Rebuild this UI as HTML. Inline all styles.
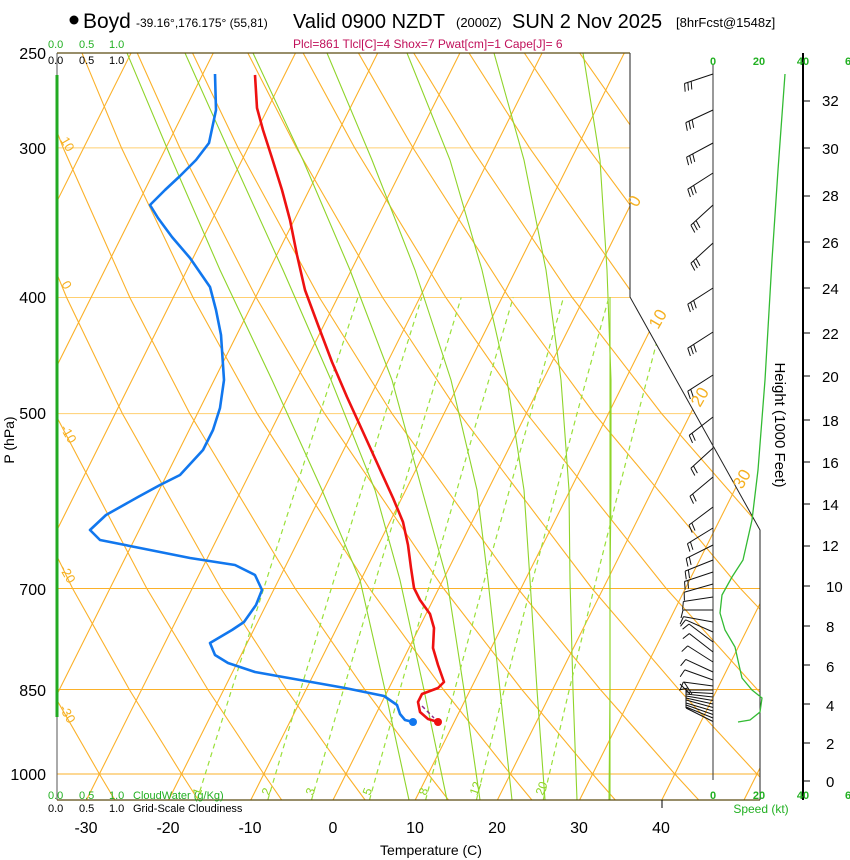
<!DOCTYPE html>
<html><head><meta charset="utf-8">
<style>
html,body{margin:0;padding:0;background:#fff;}
svg{display:block;font-family:"Liberation Sans",sans-serif;}
</style></head>
<body>
<svg width="850" height="860" viewBox="0 0 850 860" xmlns="http://www.w3.org/2000/svg">
<defs>
<clipPath id="cp"><polygon points="57,53 630,53 630,297 760,530 760,800 57,800"/></clipPath>
<g id="b1"><path d="M0,0 L-30,0 M-30,0 l-2,8" stroke="#111" stroke-width="1" fill="none"/></g>
<g id="b2"><path d="M0,0 L-30,0 M-30,0 l-2,8 M-26.5,0 l-2,8" stroke="#111" stroke-width="1" fill="none"/></g>
<g id="b3"><path d="M0,0 L-30,0 M-30,0 l-2,8 M-26.5,0 l-2,8 M-23,0 l-2,8" stroke="#111" stroke-width="1" fill="none"/></g>
</defs>
<rect width="850" height="860" fill="#fff"/>
<g clip-path="url(#cp)" fill="none">
<g stroke="#fbb12a" stroke-width="1">
<path d="M57,147.9H630M57,297.5H630M57,413.6H760" stroke="#ffcf70"/>
<path d="M57,588.5H760M57,689.5H760M57,774H760"/>
</g>
<g stroke="#fbb12a" stroke-width="1.1">
<path d="M-242.4,800L131.1,53M-160.2,800L213.3,53M-78,800L295.5,53M4.2,800L377.7,53M86.4,800L459.9,53M168.6,800L542.1,53M250.8,800L624.3,53M333,800L706.5,53M415.2,800L788.7,53M497.4,800L870.9,53M579.6,800L953.1,53M661.8,800L1035.3,53M744,800L1117.5,53"/>
</g>
<g stroke="#fbb12a" stroke-width="1.1">
<path d="M31.5,800L17.2,774L-27.7,689.5"/>
<path d="M114.9,800L99.4,774L50.8,689.5L-1.6,588.5"/>
<path d="M198.3,800L181.6,774L129.3,689.5L72.6,588.5L-12.4,413.6"/>
<path d="M281.7,800L263.8,774L207.8,689.5L146.8,588.5L55,413.6L3.4,297.5L-53.4,147.9"/>
<path d="M365.1,800L346,774L286.3,689.5L221,588.5L122.4,413.6L66.6,297.5L4.9,147.9L-28.6,53.1"/>
<path d="M448.5,800L428.2,774L364.8,689.5L295.2,588.5L189.8,413.6L129.8,297.5L63.2,147.9L26.7,53.1"/>
<path d="M531.9,800L510.4,774L443.3,689.5L369.4,588.5L257.2,413.6L193,297.5L121.5,147.9L82,53.1"/>
<path d="M615.3,800L592.6,774L521.8,689.5L443.6,588.5L324.6,413.6L256.2,297.5L179.8,147.9L137.3,53.1"/>
<path d="M698.7,800L674.8,774L600.3,689.5L517.8,588.5L392,413.6L319.4,297.5L238.1,147.9L192.6,53.1"/>
<path d="M782.1,800L757,774L678.8,689.5L592,588.5L459.4,413.6L382.6,297.5L296.4,147.9L247.9,53.1"/>
<path d="M865.5,800L839.2,774L757.3,689.5L666.2,588.5L526.8,413.6L445.8,297.5L354.7,147.9L303.2,53.1"/>
<path d="M948.9,800L921.4,774L835.8,689.5L740.4,588.5L594.2,413.6L509,297.5L413,147.9L358.5,53.1"/>
<path d="M1032.3,800L1003.6,774L914.3,689.5L814.6,588.5L661.6,413.6L572.2,297.5L471.3,147.9L413.8,53.1"/>
<path d="M1115.7,800L1085.8,774L992.8,689.5L888.8,588.5L729,413.6L635.4,297.5L529.6,147.9L469.1,53.1"/>
<path d="M1199.1,800L1168,774L1071.3,689.5L963,588.5L796.4,413.6L698.6,297.5L587.9,147.9L524.4,53.1"/>
<path d="M1282.5,800L1250.2,774L1149.8,689.5L1037.2,588.5L863.8,413.6L761.8,297.5L646.2,147.9L579.7,53.1"/>
<path d="M1365.9,800L1332.4,774L1228.3,689.5L1111.4,588.5L931.2,413.6L825,297.5L704.5,147.9L635,53.1"/>
</g>
<g stroke="#8fd42a" stroke-width="1.1">
<path d="M609,800L610,690L610,580L611,490L611,380L607,270L600,160L583,53"/>
<path d="M577,800L573,690L570,580L569,490L561,380L546,270L524,160L494,53"/>
<path d="M545,800L537,690L530,580L524,490L507,380L482,270L450,160L407,53"/>
<path d="M512,800L500,690L488,580L477,490L451,380L415,270L372,160L327,53"/>
<path d="M480,800L464,690L447,580L422,490L392,380L350,270L303,160L253,53"/>
<path d="M447,800L424,690L400,580L375,490L331,380L283,270L233,160L185,53"/>
<path d="M409,800L385,690L360,580L322,490L272,380L220,270L172,160L127,53"/>
<path d="M610,297V800"/>
</g>
<g stroke="#9ae03a" stroke-width="1.2" stroke-dasharray="5,4">
<path d="M197.1,800L231.7,689.5L263.7,588.5L319.9,413.6L357.9,297.5"/>
<path d="M267.8,800L300.7,689.5L331.3,588.5L385.2,413.6L421.7,297.5"/>
<path d="M311.5,800L343.5,689.5L373.2,588.5L425.7,413.6L461.2,297.5"/>
<path d="M369.5,800L400,689.5L428.5,588.5L478.9,413.6L513.2,297.5"/>
<path d="M425.6,800L454.8,689.5L482.1,588.5L530.6,413.6L563.5,297.5"/>
<path d="M476.4,800L504.2,689.5L530.4,588.5L577,413.6L608.8,297.5"/>
<path d="M543.2,800L569.3,689.5L594,588.5L638.1,413.6L668.4,297.5"/>
</g>
</g>
<g fill="none">
<path d="M630,53V297L760,530V800" stroke="#222" stroke-width="1"/>
<path d="M57,53V800" stroke="#555" stroke-width="1"/>
<path d="M57,53H630M57,800H760" stroke="#5a4a10" stroke-width="1.2"/>
<path d="M713,65V780" stroke="#333" stroke-width="1"/>
<path d="M57,75V717" stroke="#22aa22" stroke-width="3"/>
<path d="M803,53V800" stroke="#000" stroke-width="2"/>
<path d="M803,101h7M803,148h7M803,196h7M803,242h7M803,288h7M803,333h7M803,376h7M803,420h7M803,462h7M803,504h7M803,546h7M803,586h7M803,626h7M803,665h7M803,704h7M803,743h7M803,781h7M662,800v8" stroke="#000" stroke-width="1"/>
<path d="M785,74L778,170L772,260L765,380L758,470L752,520L743,560L732,577L722,595L720,613L725,630L735,647L739,665L742,678L752,690L762,698L760,712L750,720L738,722" stroke="#33bb33" stroke-width="1.3"/>
</g>
<use href="#b3" transform="translate(713,74) rotate(-18.4)"/>
<use href="#b3" transform="translate(713,110) rotate(-24.9)"/>
<use href="#b3" transform="translate(713,143) rotate(-28.2)"/>
<use href="#b3" transform="translate(713,173) rotate(-32.7)"/>
<use href="#b3" transform="translate(713,205) rotate(-42.5)"/>
<use href="#b3" transform="translate(713,243) rotate(-42.5)"/>
<use href="#b3" transform="translate(713,288) rotate(-32.7)"/>
<use href="#b3" transform="translate(713,332) rotate(-32.7)"/>
<use href="#b2" transform="translate(713,375) rotate(-32.7)"/>
<use href="#b2" transform="translate(713,417) rotate(-37.6)"/>
<use href="#b2" transform="translate(713,448) rotate(-42.5)"/>
<use href="#b2" transform="translate(713,477) rotate(-39.8)"/>
<use href="#b2" transform="translate(713,507) rotate(-36.9)"/>
<use href="#b2" transform="translate(713,528) rotate(-31.6)"/>
<use href="#b2" transform="translate(713,545) rotate(-26.6)"/>
<use href="#b2" transform="translate(713,560) rotate(-21.8)"/>
<use href="#b2" transform="translate(713,572) rotate(-18.4)"/>
<use href="#b1" transform="translate(713,584) rotate(-15.9)"/>
<use href="#b1" transform="translate(713,597) rotate(-8.7)"/>
<use href="#b1" transform="translate(713,610) rotate(0)"/>
<use href="#b1" transform="translate(713,622) rotate(10.3)"/>
<use href="#b1" transform="translate(713,632) rotate(24)"/>
<use href="#b1" transform="translate(713,642) rotate(36.9)"/>
<use href="#b1" transform="translate(713,652) rotate(37.9)"/>
<use href="#b1" transform="translate(713,662) rotate(32.5)"/>
<use href="#b1" transform="translate(713,672) rotate(24.8)"/>
<use href="#b1" transform="translate(713,680) rotate(19.7)"/>
<use href="#b1" transform="translate(713,686) rotate(7.6)"/>
<path d="M713,690L686,690M713,693.5L686,692M713,697L686,694M713,700.5L686,696M713,704L686,698M713,707.5L686,700M713,711L686,703M713,714.5L686,705M713,718L686,707M713,721.5L686,708M686,688V708M680,684L690,694M684,682L692,694M679,690L688,688" stroke="#111" stroke-width="1" fill="none"/>
<path d="M255,75L257,108L263,130L272,158L282,190L290,220L297,255L305,290L318,325L332,362L347,397L363,432L378,465L393,498L403,522L408,545L411,568L414,588L420,600L430,614L434,628L433,648L438,665L444,682L438,688L422,694L418,702L420,712L428,719L438,722" fill="none" stroke="#ee1111" stroke-width="2.6" stroke-linejoin="round"/>
<circle cx="438" cy="722" r="4" fill="#ee1111"/>
<path d="M422,706L434,718" stroke="#8a2a8a" stroke-width="1.5" stroke-dasharray="4,3"/>
<path d="M215,74L216,110L209,143L196,160L180,176L165,190L150,205L158,218L172,237L190,258L210,287L216,310L221,335L223,365L224,380L220,408L213,430L203,450L180,475L160,485L138,497L106,515L90,530L100,540L140,548L190,558L235,565L255,575L262,590L256,605L244,622L232,630L210,643L215,655L228,663L255,672L300,680L345,688L384,696L397,705L400,714L405,720L413,722" fill="none" stroke="#1177ee" stroke-width="2.6" stroke-linejoin="round"/>
<circle cx="413" cy="722" r="4" fill="#1177ee"/>
<circle cx="74" cy="20" r="4.5" fill="#000"/>
<text x="83" y="28" font-size="21">Boyd</text>
<text x="136" y="27" font-size="12">-39.16°,176.175° (55,81)</text>
<text x="293" y="28" font-size="20">Valid 0900 NZDT</text>
<text x="456" y="27" font-size="13">(2000Z)</text>
<text x="512" y="28" font-size="20">SUN 2 Nov 2025</text>
<text x="676" y="27" font-size="13">[8hrFcst@1548z]</text>
<text x="293" y="48" font-size="12" fill="#c0105a">Plcl=861 Tlcl[C]=4 Shox=7 Pwat[cm]=1 Cape[J]= 6</text>
<g font-size="11" fill="#22b022"><text x="48" y="48">0.0</text><text x="79" y="48">0.5</text><text x="109" y="48">1.0</text></g>
<g font-size="11" fill="#000"><text x="48" y="64">0.0</text><text x="79" y="64">0.5</text><text x="109" y="64">1.0</text></g>
<g font-size="11" fill="#22b022"><text x="48" y="799">0.0</text><text x="79" y="799">0.5</text><text x="109" y="799">1.0</text><text x="133" y="799">CloudWater (g/Kg)</text></g>
<g font-size="11" fill="#000"><text x="48" y="812">0.0</text><text x="79" y="812">0.5</text><text x="109" y="812">1.0</text><text x="133" y="812">Grid-Scale Cloudiness</text></g>
<g font-size="16" text-anchor="end">
<text x="46" y="59">250</text><text x="46" y="154">300</text><text x="46" y="303">400</text>
<text x="46" y="419">500</text><text x="46" y="595">700</text><text x="46" y="696">850</text><text x="46" y="780">1000</text>
</g>
<text transform="translate(14,440) rotate(-90)" font-size="14" text-anchor="middle">P (hPa)</text>
<g font-size="16" text-anchor="middle">
<text x="86" y="833">-30</text><text x="168" y="833">-20</text><text x="250" y="833">-10</text><text x="333" y="833">0</text>
<text x="415" y="833">10</text><text x="497" y="833">20</text><text x="579" y="833">30</text><text x="661" y="833">40</text>
</g>
<text x="431" y="855" font-size="14" text-anchor="middle">Temperature (C)</text>
<g font-size="11" font-weight="bold" fill="#22b022" text-anchor="middle">
<text x="713" y="65">0</text><text x="759" y="65">20</text><text x="803" y="65">40</text><text x="848" y="65">6</text>
<text x="713" y="799">0</text><text x="759" y="799">20</text><text x="803" y="799">40</text><text x="848" y="799">6</text>
</g>
<text x="761" y="813" font-size="12" fill="#22b022" text-anchor="middle">Speed (kt)</text>
<g font-size="15">
<text x="822" y="106">32</text><text x="822" y="154">30</text><text x="822" y="201">28</text><text x="822" y="248">26</text>
<text x="822" y="294">24</text><text x="822" y="339">22</text><text x="822" y="382">20</text><text x="822" y="426">18</text>
<text x="822" y="468">16</text><text x="822" y="510">14</text><text x="822" y="551">12</text><text x="826" y="592">10</text>
<text x="826" y="632">8</text><text x="826" y="672">6</text><text x="826" y="711">4</text><text x="826" y="749">2</text><text x="826" y="787">0</text>
</g>
<text transform="translate(775,425) rotate(90)" font-size="15" text-anchor="middle">Height (1000 Feet)</text>
<g font-size="13" fill="#f5b020">
<text transform="translate(60,140) rotate(60)">10</text>
<text transform="translate(61,284) rotate(60)">0</text>
<text transform="translate(60,428) rotate(60)">-10</text>
<text transform="translate(59,568) rotate(60)">-20</text>
<text transform="translate(59,708) rotate(60)">-30</text>
</g>
<g font-size="17" fill="#f5b020">
<text transform="translate(637,208) rotate(-60)">0</text>
<text transform="translate(658,330) rotate(-60)">10</text>
<text transform="translate(700,408) rotate(-60)">20</text>
<text transform="translate(742,490) rotate(-60)">30</text>
</g>
<g font-size="12" fill="#8cd420">
<text transform="translate(200,796) rotate(-70)">1</text>
<text transform="translate(269,796) rotate(-70)">2</text>
<text transform="translate(313,796) rotate(-70)">3</text>
<text transform="translate(370,796) rotate(-70)">5</text>
<text transform="translate(426,796) rotate(-70)">8</text>
<text transform="translate(477,796) rotate(-70)">12</text>
<text transform="translate(543,796) rotate(-70)">20</text>
</g>
</svg>
</body></html>
